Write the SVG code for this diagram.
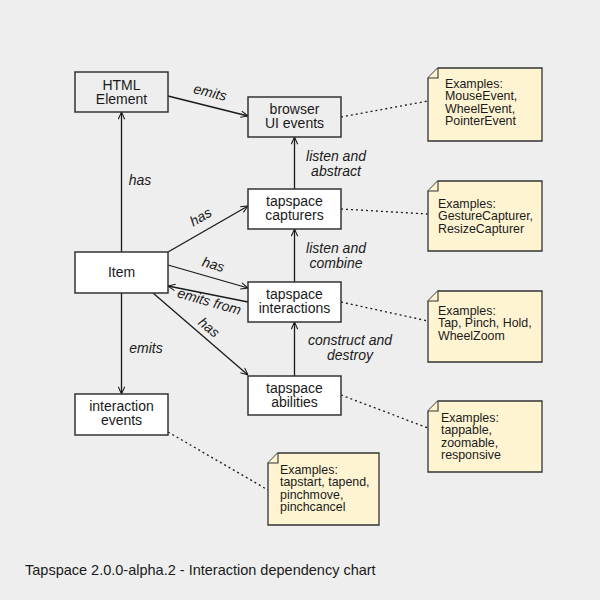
<svg xmlns="http://www.w3.org/2000/svg" width="600" height="600" viewBox="0 0 600 600">
<defs>
<marker id="arr" viewBox="0 0 10 10" refX="10" refY="5" markerWidth="8" markerHeight="8" orient="auto" markerUnits="userSpaceOnUse">
<path d="M1,1 L10,5 L1,9" fill="none" stroke="#1a1a1a" stroke-width="1.3"/>
</marker>
<style>
.node{stroke:#333;stroke-width:1.5}
.w{fill:#ffffff}
.g{fill:#eeeeee}
.t{font-family:"Liberation Sans",Arial,sans-serif;font-size:14px;fill:#1a1a1a;text-anchor:middle}
.l{font-family:"Liberation Sans",Arial,sans-serif;font-size:14px;font-style:italic;fill:#1a1a1a;text-anchor:middle}
.n{font-family:"Liberation Sans",Arial,sans-serif;font-size:12.4px;fill:#1a1a1a}
.note{fill:#fff4d2;stroke:#333;stroke-width:1.3}
.edge{stroke:#1a1a1a;stroke-width:1.3;fill:none;marker-end:url(#arr)}
.dot{stroke:#1a1a1a;stroke-width:1.3;fill:none;stroke-dasharray:2,3}
</style>
</defs>
<rect x="0" y="0" width="600" height="600" fill="#eeeeee"/>

<g id="connectors">
<line class="edge" x1="168" y1="96" x2="248" y2="116"/>
<line class="edge" x1="121.5" y1="252" x2="121.5" y2="112"/>
<line class="edge" x1="294.5" y1="189" x2="294.5" y2="137"/>
<line class="edge" x1="168" y1="252" x2="248" y2="206"/>
<line class="edge" x1="168" y1="265" x2="248" y2="288"/>
<line class="edge" x1="248" y1="302" x2="168" y2="286"/>
<line class="edge" x1="153" y1="293" x2="248" y2="375"/>
<line class="edge" x1="121.5" y1="293" x2="121.5" y2="394"/>
<line class="edge" x1="294.5" y1="282" x2="294.5" y2="229"/>
<line class="edge" x1="294.5" y1="376" x2="294.5" y2="322"/>
<line class="dot" x1="341" y1="117" x2="428" y2="101"/>
<line class="dot" x1="341" y1="209" x2="428" y2="214"/>
<line class="dot" x1="341" y1="302" x2="428" y2="321"/>
<line class="dot" x1="341" y1="395" x2="428" y2="428"/>
<line class="dot" x1="168" y1="432" x2="268" y2="490"/>
<text class="l" transform="translate(209,97) rotate(14)">emits</text>
<text class="l" x="140" y="185">has</text>
<text class="l" x="336" y="161">listen and</text>
<text class="l" x="336" y="176">abstract</text>
<text class="l" transform="translate(203,221) rotate(-30)">has</text>
<text class="l" x="336" y="253">listen and</text>
<text class="l" x="336" y="268">combine</text>
<text class="l" transform="translate(212,269) rotate(16)">has</text>
<text class="l" transform="translate(208,306) rotate(16)">emits from</text>
<text class="l" transform="translate(206,331) rotate(40)">has</text>
<text class="l" x="146" y="353">emits</text>
<text class="l" x="350" y="345">construct and</text>
<text class="l" x="350" y="360">destroy</text>
</g>

<g id="html-element">
<rect class="node g" x="75" y="72" width="93" height="40"/>
<text class="t" x="121.5" y="90">HTML</text>
<text class="t" x="121.5" y="104">Element</text>
</g>
<g id="browser-ui-events">
<rect class="node g" x="248" y="97" width="93" height="40"/>
<text class="t" x="294.5" y="114">browser</text>
<text class="t" x="294.5" y="128">UI events</text>
</g>
<g id="tapspace-capturers">
<rect class="node w" x="248" y="189" width="93" height="40"/>
<text class="t" x="294.5" y="206">tapspace</text>
<text class="t" x="294.5" y="220">capturers</text>
</g>
<g id="item">
<rect class="node w" x="75" y="252" width="93" height="41"/>
<text class="t" x="121.5" y="277">Item</text>
</g>
<g id="tapspace-interactions">
<rect class="node w" x="248" y="282" width="93" height="40"/>
<text class="t" x="294.5" y="299">tapspace</text>
<text class="t" x="294.5" y="313">interactions</text>
</g>
<g id="tapspace-abilities">
<rect class="node w" x="248" y="376" width="93" height="39"/>
<text class="t" x="294.5" y="393">tapspace</text>
<text class="t" x="294.5" y="407">abilities</text>
</g>
<g id="interaction-events">
<rect class="node w" x="75" y="394" width="93" height="41"/>
<text class="t" x="121.5" y="411">interaction</text>
<text class="t" x="121.5" y="425">events</text>
</g>

<g id="note-ui-events">
<path class="note" d="M438,68 L542,68 L542,141 L428,141 L428,78 Z"/>
<path d="M438,68 L438,78 L428,78" fill="#fff4d2" stroke="#333" stroke-width="1.1"/>
<text class="n" x="445" y="88">Examples:</text>
<text class="n" x="445" y="100.3">MouseEvent,</text>
<text class="n" x="445" y="112.6">WheelEvent,</text>
<text class="n" x="445" y="124.9">PointerEvent</text>
</g>
<g id="note-capturers">
<path class="note" d="M438,181 L542,181 L542,251 L428,251 L428,191 Z"/>
<path d="M438,181 L438,191 L428,191" fill="#fff4d2" stroke="#333" stroke-width="1.1"/>
<text class="n" x="438" y="208">Examples:</text>
<text class="n" x="438" y="220.3">GestureCapturer,</text>
<text class="n" x="438" y="232.6">ResizeCapturer</text>
</g>
<g id="note-interactions">
<path class="note" d="M438,291 L542,291 L542,362 L428,362 L428,301 Z"/>
<path d="M438,291 L438,301 L428,301" fill="#fff4d2" stroke="#333" stroke-width="1.1"/>
<text class="n" x="438" y="315">Examples:</text>
<text class="n" x="438" y="327.3">Tap, Pinch, Hold,</text>
<text class="n" x="438" y="339.6">WheelZoom</text>
</g>
<g id="note-abilities">
<path class="note" d="M438,401 L542,401 L542,472 L428,472 L428,411 Z"/>
<path d="M438,401 L438,411 L428,411" fill="#fff4d2" stroke="#333" stroke-width="1.1"/>
<text class="n" x="441" y="422">Examples:</text>
<text class="n" x="441" y="434.3">tappable,</text>
<text class="n" x="441" y="446.6">zoomable,</text>
<text class="n" x="441" y="458.9">responsive</text>
</g>
<g id="note-events">
<path class="note" d="M278,453 L379,453 L379,525 L268,525 L268,463 Z"/>
<path d="M278,453 L278,463 L268,463" fill="#fff4d2" stroke="#333" stroke-width="1.1"/>
<text class="n" x="280" y="474">Examples:</text>
<text class="n" x="280" y="486.3">tapstart, tapend,</text>
<text class="n" x="280" y="498.6">pinchmove,</text>
<text class="n" x="280" y="510.9">pinchcancel</text>
</g>

<text x="25" y="575" font-family="Liberation Sans, Arial, sans-serif" font-size="14.5" fill="#1a1a1a">Tapspace 2.0.0-alpha.2 - Interaction dependency chart</text>
</svg>
